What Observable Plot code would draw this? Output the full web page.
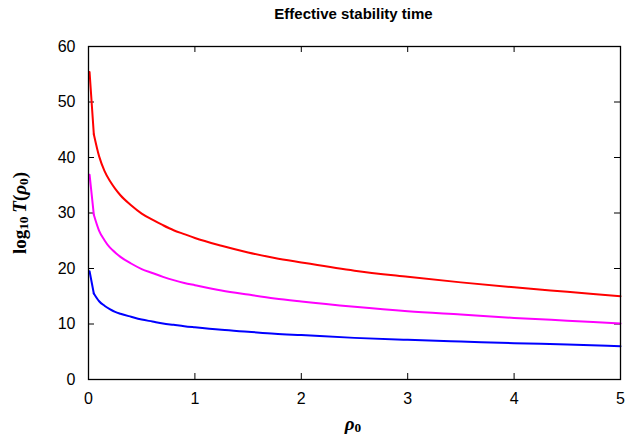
<!DOCTYPE html>
<html>
<head>
<meta charset="utf-8">
<script src="https://cdn.jsdelivr.net/npm/d3@7"></script>
<script src="https://cdn.jsdelivr.net/npm/@observablehq/plot@0.6"></script>
<style>
  html, body { margin: 0; padding: 0; background: white; }
  #wrap { position: relative; width: 627px; height: 438px; overflow: hidden; }
  #title { position: absolute; left: 0; top: 5px; width: 627px; padding-left: 80px; box-sizing: border-box; text-align: center; font: bold 15px "Liberation Sans", sans-serif; line-height: 1.2; color: black; }
  #ylab { position: absolute; left: 19px; top: 213px; transform: translate(-50%, -50%) rotate(-90deg); white-space: nowrap; font: bold 19px "Liberation Serif", serif; line-height: 1; color: black; }
  #xlab { position: absolute; left: 353px; top: 423px; transform: translate(-50%, -50%); white-space: nowrap; font: bold 19px "Liberation Serif", serif; line-height: 1; color: black; }
  sub { font-size: 0.7em; vertical-align: -0.22em; line-height: 0; }
  i { font-style: italic; }
</style>
</head>
<body>
<div id="wrap">
  <div id="chart"></div>
  <div id="title">Effective stability time</div>
  <div id="ylab">log<sub>10</sub>&#8201;<i>T</i>(<i>ρ</i><sub>0</sub>)</div>
  <div id="xlab"><i>ρ</i><sub>0</sub></div>
</div>
<script>
// Data
const rho = [0.01, 0.05, 0.1, 0.15, 0.2, 0.25, 0.3, 0.4, 0.5, 0.6, 0.7, 0.8, 0.9, 1, 1.25, 1.5, 1.75, 2, 2.5, 3, 3.5, 4, 4.5, 5];
const redValues     = [55.4, 44.2, 40.2, 37.6, 35.8, 34.4, 33.2, 31.4, 29.9, 28.8, 27.8, 26.9, 26.2, 25.5, 24.1, 22.9, 21.9, 21.1, 19.6, 18.5, 17.5, 16.6, 15.8, 15.0];
const magentaValues = [36.9, 29.7, 26.8, 25.1, 23.8, 22.9, 22.1, 20.9, 19.9, 19.2, 18.5, 17.9, 17.4, 17.0, 16.05, 15.3, 14.6, 14.05, 13.1, 12.3, 11.7, 11.1, 10.6, 10.1];
const blueValues    = [19.5, 15.5, 14.1, 13.3, 12.7, 12.2, 11.85, 11.3, 10.8, 10.45, 10.1, 9.85, 9.6, 9.4, 8.95, 8.6, 8.25, 8.0, 7.5, 7.15, 6.85, 6.55, 6.3, 6.0];
const seriesNames = ["red", "magenta", "blue"];
const seriesColors = ["#ff0000", "#ff00ff", "#0000ff"];
const xTicks = [0, 1, 2, 3, 4, 5];
const yTicks = [0, 10, 20, 30, 40, 50, 60];

const seriesValues = [redValues, magentaValues, blueValues];
const data = seriesNames.flatMap((name, s) => rho.map((r, i) => ({rho: r, v: seriesValues[s][i], name})));
const kink = rho[1];

const W = 627, H = 438, mL = 88, mR = 7, mT = 46, mB = 59;
const fw = W - mL - mR, fh = H - mT - mB;
const tick = 6;

const chart = Plot.plot({
  width: W, height: H,
  marginLeft: mL, marginRight: mR, marginTop: mT, marginBottom: mB,
  style: {fontFamily: "Liberation Sans, sans-serif", fontSize: "16px", background: "white", color: "black"},
  x: {domain: [0, 5]},
  y: {domain: [0, 60]},
  color: {domain: seriesNames, range: seriesColors},
  marks: [
    Plot.axisX(xTicks, {tickSize: 0, tickPadding: 13, label: null, fontSize: 16}),
    Plot.axisY(yTicks, {tickSize: 0, tickPadding: 13, label: null, fontSize: 16}),
    Plot.tickX(xTicks, {x: d => d, insetTop: fh - tick, stroke: "black"}),
    Plot.tickX(xTicks, {x: d => d, insetBottom: fh - tick, stroke: "black"}),
    Plot.tickY(yTicks, {y: d => d, insetRight: fw - tick, stroke: "black"}),
    Plot.tickY(yTicks, {y: d => d, insetLeft: fw - tick, stroke: "black"}),
    Plot.line(data, {filter: d => d.rho <= kink, x: "rho", y: "v", z: "name", stroke: "name", strokeWidth: 2}),
    Plot.line(data, {filter: d => d.rho >= kink, x: "rho", y: "v", z: "name", stroke: "name", strokeWidth: 2, curve: "monotone-x"}),
    Plot.frame({stroke: "black", strokeWidth: 1.3})
  ]
});
document.getElementById("chart").appendChild(chart);
</script>
</body>
</html>
